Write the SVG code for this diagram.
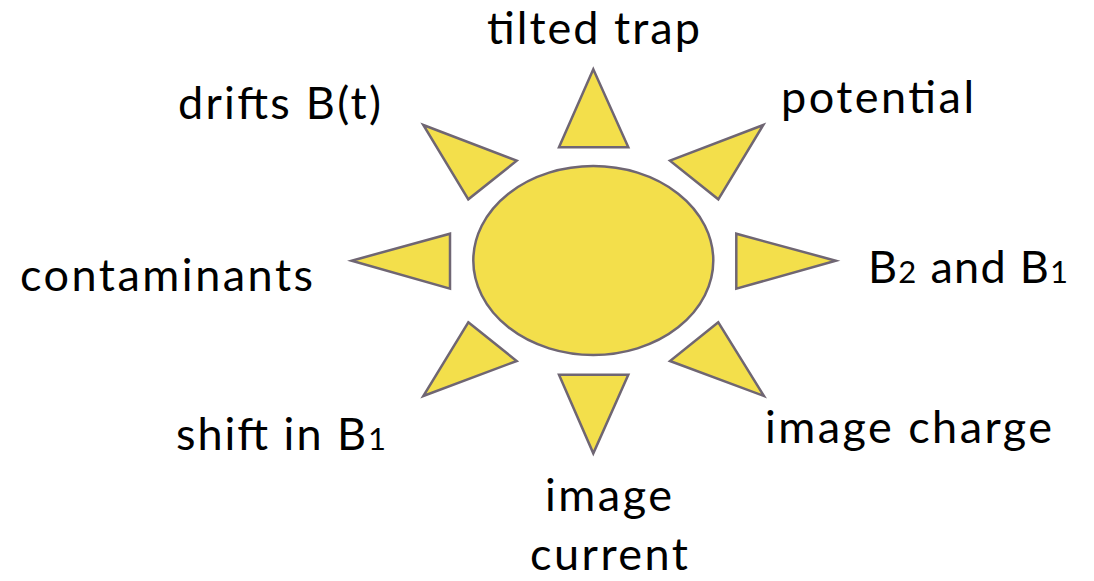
<svg xmlns="http://www.w3.org/2000/svg" width="1094" height="581" viewBox="0 0 1094 581">
<style>
.ray{fill:#f3df4b;stroke:#6f6673;stroke-width:2.5;stroke-linejoin:miter}
.lbl{font-family:Lato,"Open Sans","Liberation Sans",sans-serif;font-size:45px;fill:#000;text-anchor:middle}
.sub{font-size:31px}
</style>
<rect width="1094" height="581" fill="#fff"/>
<g id="sun">
<ellipse class="ray" cx="593.3" cy="260.5" rx="120" ry="94.5"/>
</g>
<g id="rays">
<polygon class="ray" points="593.3,69.3 559,147.3 628.3,147.3"/>
<polygon class="ray" points="423.3,125 516.7,160.7 468.3,199.3"/>
<polygon class="ray" points="763.3,125 670,160.7 718.3,199.3"/>
<polygon class="ray" points="351.7,260.7 450,233.7 450,288.7"/>
<polygon class="ray" points="835.7,260.7 736.3,233.7 736.3,288.7"/>
<polygon class="ray" points="468.3,322.3 516.7,361 423.3,396"/>
<polygon class="ray" points="718.3,322.3 670,361 764,396"/>
<polygon class="ray" points="559,374.7 628.3,374.7 593.3,453.3"/>
</g>
<g id="label-tilted-trap"><text class="lbl" x="593.5" y="44" textLength="213" lengthAdjust="spacing">tilted trap</text></g>
<g id="label-drifts"><text class="lbl" x="279.5" y="119" textLength="203" lengthAdjust="spacing">drifts B(t)</text></g>
<g id="label-potential"><text class="lbl" x="877.5" y="113" textLength="193" lengthAdjust="spacing">potential</text></g>
<g id="label-contaminants"><text class="lbl" x="166.5" y="291" textLength="293" lengthAdjust="spacing">contaminants</text></g>
<g id="label-b2b1"><text class="lbl" x="968" y="283" textLength="200" lengthAdjust="spacing">B<tspan class="sub">2</tspan> and B<tspan class="sub">1</tspan></text></g>
<g id="label-shift"><text class="lbl" x="281" y="450" textLength="210" lengthAdjust="spacing">shift in B<tspan class="sub">1</tspan></text></g>
<g id="label-image-charge"><text class="lbl" x="908.5" y="443" textLength="287" lengthAdjust="spacing">image charge</text></g>
<g id="label-image-current"><text class="lbl" x="608.5" y="511" textLength="127" lengthAdjust="spacing">image</text><text class="lbl" x="609" y="570" textLength="158" lengthAdjust="spacing">current</text></g>
</svg>
